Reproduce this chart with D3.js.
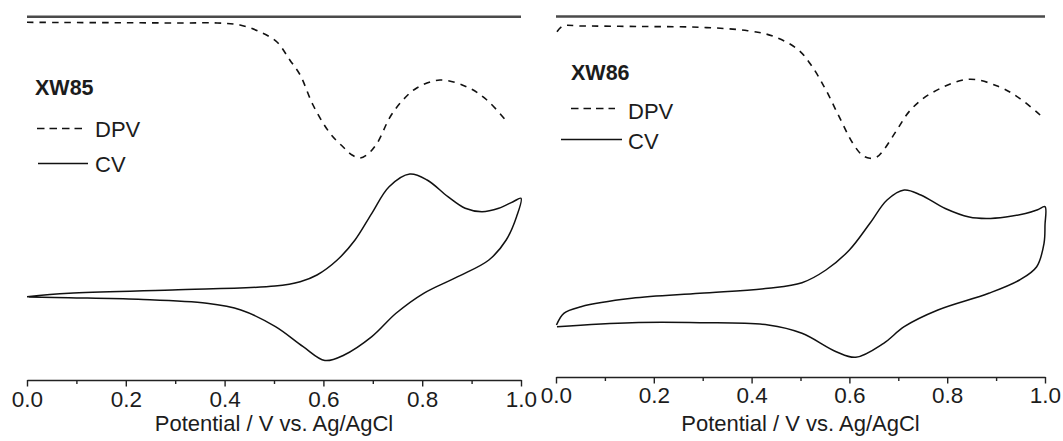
<!DOCTYPE html>
<html>
<head>
<meta charset="utf-8">
<script src="https://cdn.jsdelivr.net/npm/d3@7"></script>
<style>
  html, body { margin: 0; background: #fff; }
  svg { display: block; }
  text { font-family: "Liberation Sans", Arial, Helvetica, sans-serif; fill: #1c1c1c; }
</style>
</head>
<body>
<svg id="chart" width="1063" height="441"></svg>
<script>
// ---- data -------------------------------------------------------------
const samples = ["XW85", "XW86"];
const seriesNames = ["DPV", "CV"];
const majorTicks = [0, 0.2, 0.4, 0.6, 0.8, 1.0];
const minorTicks = [0.1, 0.3, 0.5, 0.7, 0.9];
const axisTitle = "Potential / V vs. Ag/AgCl";

// XW85 differential pulse voltammogram: potential (V), current (a.u.)
const dpv85E = [0.000, 0.067, 0.188, 0.310, 0.385, 0.431, 0.472, 0.506, 0.532, 0.553, 0.579, 0.613, 0.640, 0.658, 0.674, 0.690, 0.709, 0.735, 0.761, 0.789, 0.836, 0.891, 0.931, 0.972];
const dpv85I = [357.7, 357.5, 357.3, 357.0, 357.0, 355.0, 348.0, 338.0, 320.0, 305.0, 275.0, 247.0, 233.0, 225.0, 222.0, 226.0, 237.0, 263.0, 280.0, 292.0, 300.0, 293.0, 280.0, 258.0];

// XW85 cyclic voltammogram (anodic sweep then reverse sweep)
const cv85E = [0.000, 0.085, 0.294, 0.502, 0.553, 0.587, 0.628, 0.664, 0.698, 0.733, 0.775, 0.810, 0.852, 0.887, 0.921, 0.955, 0.984, 1.000,
               0.991, 0.970, 0.935, 0.872, 0.803, 0.747, 0.698, 0.642, 0.603, 0.559, 0.503, 0.433, 0.364, 0.225, 0.085, 0.004];
const cv85I = [83.3, 86.7, 90.0, 94.0, 98.3, 105.0, 120.0, 140.0, 166.7, 193.3, 206.0, 200.0, 183.3, 171.7, 168.3, 171.7, 178.3, 181.7,
               163.3, 140.0, 120.0, 103.3, 86.7, 66.7, 43.3, 25.0, 19.5, 33.3, 53.3, 70.0, 76.7, 80.7, 82.3, 83.1];

// XW86 differential pulse voltammogram
const dpv86E = [0.002, 0.014, 0.051, 0.172, 0.294, 0.392, 0.447, 0.496, 0.524, 0.552, 0.579, 0.607, 0.626, 0.642, 0.656, 0.670, 0.697, 0.725, 0.767, 0.844, 0.906, 0.948, 0.990];
const dpv86I = [348.3, 354.0, 354.0, 353.5, 352.7, 349.3, 343.3, 330.0, 313.3, 290.0, 263.3, 236.7, 225.0, 221.7, 223.0, 230.0, 250.0, 270.0, 286.7, 300.7, 293.3, 281.7, 265.0];

// XW86 cyclic voltammogram
const cv86E = [0.001, 0.016, 0.051, 0.155, 0.294, 0.434, 0.503, 0.552, 0.600, 0.642, 0.677, 0.712, 0.746, 0.796, 0.845, 0.880, 0.920, 0.960, 0.985, 1.000,
               1.000, 0.998, 0.983, 0.948, 0.885, 0.781, 0.712, 0.670, 0.613, 0.573, 0.503, 0.434, 0.294, 0.155, 0.002];
const cv86I = [55.0, 66.7, 73.3, 81.7, 86.7, 91.7, 97.3, 110.0, 130.0, 156.7, 180.0, 190.0, 185.0, 171.5, 163.0, 161.5, 163.0, 166.5, 170.3, 173.3,
               155.0, 136.7, 113.3, 100.0, 86.7, 70.0, 53.3, 36.7, 22.7, 28.3, 46.7, 55.0, 57.3, 57.3, 53.3];

// ---- layout -----------------------------------------------------------
const panels = [
  { name: samples[0], dpvE: dpv85E, dpvI: dpv85I, cvE: cv85E, cvI: cv85I,
    x0: 27, x1: 521, axisY: 380, topY: 16.7, labelPad: 5, titleY: 431,
    legend: { tx: 35, ty: 95, dpvY: 128.5, dpvX: [37, 82], dpvT: 137, cvY: 163.5, cvX: [38, 88], cvT: 172, textX: 95 } },
  { name: samples[1], dpvE: dpv86E, dpvI: dpv86I, cvE: cv86E, cvI: cv86I,
    x0: 556, x1: 1045, axisY: 377, topY: 16.5, labelPad: 3.5, titleY: 431,
    legend: { tx: 571, ty: 80, dpvY: 108.5, dpvX: [571, 615], dpvT: 118.5, cvY: 139.5, cvX: [561, 622], cvT: 148.5, textX: 628 } }
];

const svg = d3.select("#chart");
const y = d3.scaleLinear().domain([0, 363]).range([380, 17]);
const curveDash = "6.5,6";

panels.forEach(p => {
  const x = d3.scaleLinear().domain([0, 1]).range([p.x0, p.x1]);
  const g = svg.append("g");

  // top frame line
  g.append("line")
    .attr("x1", p.x0).attr("x2", p.x1)
    .attr("y1", p.topY).attr("y2", p.topY)
    .attr("stroke", "#4a4a4a").attr("stroke-width", 2.4);

  // minor ticks
  g.append("g")
    .attr("transform", `translate(0,${p.axisY})`)
    .call(d3.axisBottom(x).tickValues(minorTicks).tickSize(4).tickSizeOuter(0).tickFormat(""))
    .call(a => a.select(".domain").remove())
    .call(a => a.selectAll("line").attr("stroke", "#222").attr("stroke-width", 1.4));

  // major ticks, labels and axis line
  g.append("g")
    .attr("transform", `translate(0,${p.axisY})`)
    .call(d3.axisBottom(x).tickValues(majorTicks).tickSize(6.5).tickSizeOuter(0)
      .tickPadding(p.labelPad).tickFormat(d3.format(".1f")))
    .call(a => a.select(".domain").attr("stroke", "#222").attr("stroke-width", 1.4))
    .call(a => a.selectAll("line").attr("stroke", "#222").attr("stroke-width", 1.4))
    .call(a => a.selectAll("text").attr("font-size", 22.5).attr("fill", "#1c1c1c")
      .style("font-family", "'Liberation Sans', Arial, sans-serif"));

  // axis title
  g.append("text")
    .attr("x", (p.x0 + p.x1) / 2).attr("y", p.titleY)
    .attr("text-anchor", "middle").attr("font-size", 22)
    .text(axisTitle);

  const line = d3.line()
    .x(d => x(d[0])).y(d => y(d[1]))
    .curve(d3.curveCatmullRom.alpha(0.5));

  // DPV trace (dashed)
  g.append("path")
    .datum(d3.zip(p.dpvE, p.dpvI))
    .attr("d", line)
    .attr("fill", "none").attr("stroke", "#111").attr("stroke-width", 1.6)
    .attr("stroke-dasharray", curveDash);

  // CV loop (solid)
  g.append("path")
    .datum(d3.zip(p.cvE, p.cvI))
    .attr("d", line)
    .attr("fill", "none").attr("stroke", "#111").attr("stroke-width", 1.5)
    .attr("stroke-linejoin", "round");

  // legend
  const L = p.legend;
  g.append("text").attr("x", L.tx).attr("y", L.ty)
    .attr("font-size", 21.5).attr("font-weight", "bold").text(p.name);
  g.append("line")
    .attr("x1", L.dpvX[0]).attr("x2", L.dpvX[1]).attr("y1", L.dpvY).attr("y2", L.dpvY)
    .attr("stroke", "#111").attr("stroke-width", 1.6).attr("stroke-dasharray", "7.5,5");
  g.append("text").attr("x", L.textX).attr("y", L.dpvT).attr("font-size", 22).text(seriesNames[0]);
  g.append("line")
    .attr("x1", L.cvX[0]).attr("x2", L.cvX[1]).attr("y1", L.cvY).attr("y2", L.cvY)
    .attr("stroke", "#111").attr("stroke-width", 1.5);
  g.append("text").attr("x", L.textX).attr("y", L.cvT).attr("font-size", 22).text(seriesNames[1]);
});
</script>
</body>
</html>
